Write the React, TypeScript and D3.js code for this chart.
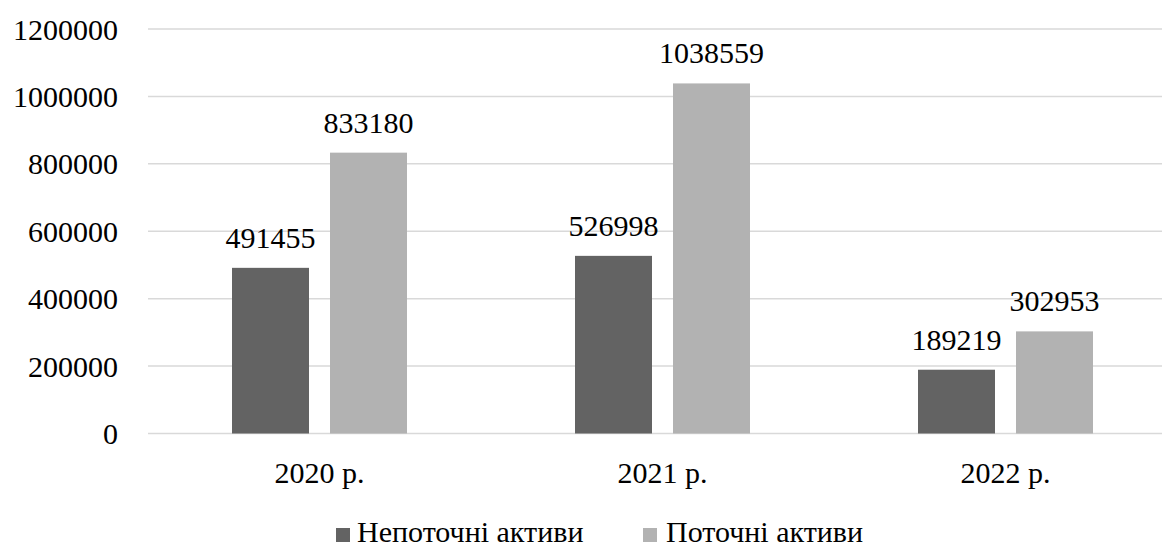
import React, { useEffect, useRef } from "react";
import * as d3 from "d3";

const categories = ["2020 р.", "2021 р.", "2022 р."];
const seriesNames = ["Непоточні активи", "Поточні активи"];
const nonCurrent = [491455, 526998, 189219];
const current = [833180, 1038559, 302953];
const yTicks = [0, 200000, 400000, 600000, 800000, 1000000, 1200000];
const colors = ["#636363", "#b2b2b2"];

const W = 1170;
const H = 545;

export default function App() {
  const ref = useRef<SVGSVGElement>(null);

  useEffect(() => {
    const svg = d3.select(ref.current!);
    svg.selectAll("*").remove();
    svg.append("style").text('text { font-family: "Liberation Serif", serif; font-size: 30px; fill: #000; }');
    svg.append("rect").attr("width", W).attr("height", H).attr("fill", "#fff");

    const y = d3.scaleLinear().domain([0, 1200000]).range([433.5, 29]);
    const x0 = d3.scaleBand<string>().domain(categories).range([148, 1177]).paddingInner(0).paddingOuter(0);
    const bw = x0.bandwidth();
    const groupW = 175;
    const x1 = d3
      .scaleBand<string>()
      .domain(seriesNames)
      .range([(bw - groupW) / 2, (bw + groupW) / 2])
      .paddingInner(21 / 98)
      .paddingOuter(0);
    const seriesValues = [nonCurrent, current];

    const grid = svg.append("g");
    yTicks.forEach((t) => {
      grid
        .append("line")
        .attr("x1", 148)
        .attr("x2", 1177)
        .attr("y1", y(t))
        .attr("y2", y(t))
        .attr("stroke", "#d9d9d9")
        .attr("stroke-width", 1.5);
      grid
        .append("text")
        .attr("x", 118)
        .attr("y", y(t))
        .attr("dy", "0.35em")
        .attr("text-anchor", "end")
        .attr("font-family", "Liberation Serif")
        .attr("font-size", 30)
        .text(String(t));
    });

    categories.forEach((c, i) => {
      const g = svg.append("g").attr("transform", `translate(${x0(c)},0)`);
      seriesNames.forEach((s, j) => {
        const v = seriesValues[j][i];
        const bx = x1(s)!;
        g.append("rect")
          .attr("x", bx)
          .attr("y", y(v))
          .attr("width", x1.bandwidth())
          .attr("height", y(0) - y(v))
          .attr("fill", colors[j]);
        g.append("text")
          .attr("x", bx + x1.bandwidth() / 2)
          .attr("y", y(v) - 20)
          .attr("text-anchor", "middle")
          .attr("font-family", "Liberation Serif")
          .attr("font-size", 30)
          .text(String(v));
      });
      g.append("text")
        .attr("x", bw / 2)
        .attr("y", 483)
        .attr("text-anchor", "middle")
        .attr("font-family", "Liberation Serif")
        .attr("font-size", 30)
        .text(c);
    });

    const legendPos = [
      { sq: 336, tx: 357 },
      { sq: 643, tx: 666 },
    ];
    seriesNames.forEach((s, j) => {
      svg
        .append("rect")
        .attr("x", legendPos[j].sq)
        .attr("y", 528)
        .attr("width", 14)
        .attr("height", 14)
        .attr("fill", colors[j]);
      svg
        .append("text")
        .attr("x", legendPos[j].tx)
        .attr("y", 542)
        .attr("font-family", "Liberation Serif")
        .attr("font-size", 30)
        .text(s);
    });
  }, []);

  return <svg ref={ref} width={W} height={H} style={{ display: "block", margin: "-8px 0 0 -8px" }} />;
}
